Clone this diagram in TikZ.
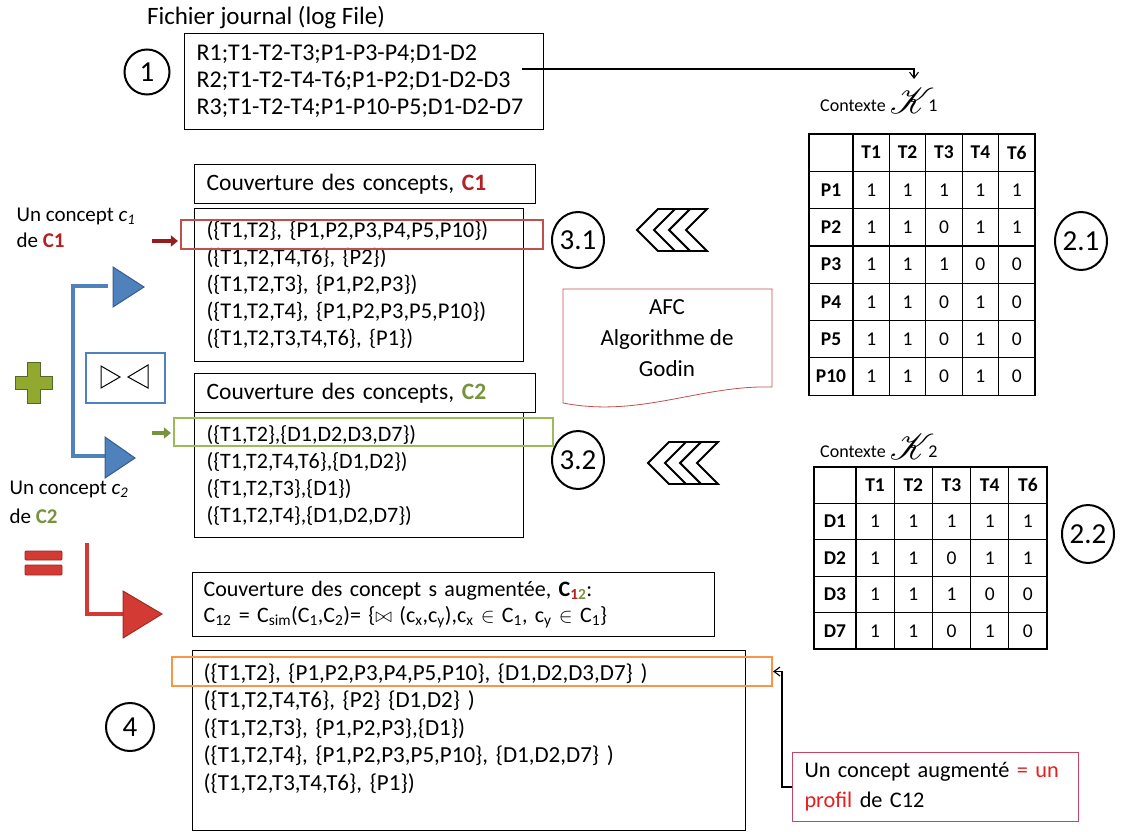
\documentclass[tikz,border=0pt]{standalone}
\usepackage{fontspec}
\setmainfont{Carlito}
\usepackage{mathrsfs}
\usetikzlibrary{shapes.geometric,arrows.meta,positioning}

\definecolor{conceptred}{RGB}{178,34,34}
\definecolor{conceptgreen}{RGB}{119,147,60}
\definecolor{selred}{RGB}{192,80,77}
\definecolor{selgreen}{RGB}{155,187,89}
\definecolor{selorange}{RGB}{247,150,70}
\definecolor{joinblue}{RGB}{79,129,189}
\definecolor{joinblueedge}{RGB}{56,93,138}
\definecolor{eqred}{RGB}{212,58,52}
\definecolor{notepink}{RGB}{200,70,100}
\definecolor{profilred}{RGB}{230,30,30}

\newcommand{\listfont}{\fontsize{22.5}{27}\selectfont}
\newcommand{\cellfont}{\fontsize{19.5}{19.5}\selectfont}
\newcommand{\bigK}{\raisebox{-2pt}{\scalebox{2.1}{$\mathscr{K}$}}\kern-6pt}

\tikzset{
  listbox/.style={draw, line width=1.2pt, anchor=north west, inner xsep=12pt,
    inner ysep=0pt, align=left, font=\listfont},
  numcirc/.style={draw, ellipse, line width=2pt, inner sep=0pt,
    font=\fontsize{29}{29}\selectfont},
  cell/.style={draw, line width=1.2pt, inner sep=0pt, font=\cellfont},
  headcell/.style={cell, font=\cellfont\bfseries},
  selbox/.style={draw, line width=2.2pt, inner sep=0pt},
  chevron/.style={draw, fill=white, line width=1.8pt, line join=miter},
  pointer/.style={-{Straight Barb[length=6pt,width=9pt]}, line width=1.1pt},
}

\begin{document}
\begin{tikzpicture}[x=1pt,y=-1pt]
  \useasboundingbox (0,0) rectangle (1121,832);

  % Log file and its number
  \node[font=\fontsize{25}{25}\selectfont] (logtitle) at (266,18) {Fichier journal (log File)};
  \node[listbox, text width=335pt, minimum height=96pt, font=\fontsize{24}{27}\selectfont] (log) at (184,33)
    {R1;T1-T2-T3;P1-P3-P4;D1-D2\\R2;T1-T2-T4-T6;P1-P2;D1-D2-D3\\R3;T1-T2-T4;P1-P10-P5;D1-D2-D7};
  \node[numcirc, circle, minimum size=45pt] (n1) at (147,72) {1};

  % Context K1
  \node[font=\fontsize{18}{18}\selectfont, anchor=west, inner sep=0pt] (ctx1) at (820,101) {Contexte \bigK1};
  \coordinate (logtap) at (522,69);
  \coordinate (ctx1top) at (914,79);
  \draw[pointer] (logtap) -| (ctx1top);

  \node[cell, minimum width=44pt, minimum height=37.3pt] (k1-0-0) at (831,152.6) {};
  \foreach \t [count=\c] in {T1,T2,T3,T4,T6}
    \node[headcell, minimum width=36.4pt, minimum height=37.3pt] (k1-0-\c) at ({853+36.4*(\c-0.5)},152.6) {\t};
  \foreach \p/\vals [count=\r] in {P1/{1,1,1,1,1},P2/{1,1,0,1,1},P3/{1,1,1,0,0},
      P4/{1,1,0,1,0},P5/{1,1,0,1,0},P10/{1,1,0,1,0}}{
    \node[headcell, minimum width=44pt, minimum height=37.3pt] (k1-\r-0) at (831,{134+37.3*(\r+0.5)}) {\p};
    \foreach \v [count=\c] in \vals
      \node[cell, minimum width=36.4pt, minimum height=37.3pt] (k1-\r-\c) at ({853+36.4*(\c-0.5)},{134+37.3*(\r+0.5)}) {\v};
  }
  \node[numcirc, minimum width=48pt, minimum height=58pt] (n21) at (1081,241) {2.1};

  % Context K2
  \node[font=\fontsize{18}{18}\selectfont, anchor=west, inner sep=0pt] (ctx2) at (820,447) {Contexte \bigK2};
  \node[cell, minimum width=42pt, minimum height=36.4pt] (k2-0-0) at (835,485.2) {};
  \foreach \t [count=\c] in {T1,T2,T3,T4,T6}
    \node[headcell, minimum width=38.2pt, minimum height=36.4pt] (k2-0-\c) at ({856+38.2*(\c-0.5)},485.2) {\t};
  \foreach \p/\vals [count=\r] in {D1/{1,1,1,1,1},D2/{1,1,0,1,1},D3/{1,1,1,0,0},D7/{1,1,0,1,0}}{
    \node[headcell, minimum width=42pt, minimum height=36.4pt] (k2-\r-0) at (835,{467+36.4*(\r+0.5)}) {\p};
    \foreach \v [count=\c] in \vals
      \node[cell, minimum width=38.2pt, minimum height=36.4pt] (k2-\r-\c) at ({856+38.2*(\c-0.5)},{467+36.4*(\r+0.5)}) {\v};
  }
  \node[numcirc, minimum width=52pt, minimum height=58pt] (n22) at (1088,534) {2.2};

  % Cover C1
  \node[listbox, text width=317pt, minimum height=39pt, font=\fontsize{23.5}{27}\selectfont] (c1head) at (194,164)
    {Couverture des concepts, \textcolor{conceptred}{\textbf{C1}}};
  \node[listbox, text width=305pt, minimum height=153pt] (c1list) at (194,208)
    {(\{T1,T2\}, \{P1,P2,P3,P4,P5,P10\})\\(\{T1,T2,T4,T6\}, \{P2\})\\(\{T1,T2,T3\}, \{P1,P2,P3\})\\
     (\{T1,T2,T4\}, \{P1,P2,P3,P5,P10\})\\(\{T1,T2,T3,T4,T6\}, \{P1\})};
  \node[selbox, draw=selred, minimum width=362pt, minimum height=29pt] (sel1) at (362,234.5) {};
  \node[numcirc, minimum width=50pt, minimum height=56pt] (n31) at (578,240) {3.1};

  % Cover C2
  \node[listbox, text width=317pt, minimum height=39pt, font=\fontsize{23.5}{27}\selectfont] (c2head) at (194,373)
    {Couverture des concepts, \textcolor{conceptgreen}{\textbf{C2}}};
  \node[listbox, text width=305pt, minimum height=125pt, font=\fontsize{22}{27}\selectfont] (c2list) at (194,412)
    {(\{T1,T2\},\{D1,D2,D3,D7\})\\(\{T1,T2,T4,T6\},\{D1,D2\})\\(\{T1,T2,T3\},\{D1\})\\(\{T1,T2,T4\},\{D1,D2,D7\})};
  \node[selbox, draw=selgreen, minimum width=379pt, minimum height=28pt] (sel2) at (363.5,432) {};
  \node[numcirc, minimum width=50pt, minimum height=58pt] (n32) at (578,460) {3.2};

  % Chevrons pointing to the covers
  \foreach \dx in {32,15,0}{
    \draw[chevron, shift={(637+\dx,230)}] (0,0) -- (21,-21) -- (38,-21) -- (17,0) -- (38,21) -- (21,21) -- cycle;
    \draw[chevron, shift={(648+\dx,463)}] (0,0) -- (21,-21) -- (38,-21) -- (17,0) -- (38,21) -- (21,21) -- cycle;
  }

  % AFC document
  \draw[selred, line width=0.8pt] (563,289) -- (772,289) -- (772,387)
    .. controls (700,385) and (640,418) .. (563,403) -- cycle;
  \node[align=center, font=\fontsize{23}{31}\selectfont] (afc) at (667,338) {AFC\\Algorithme de\\Godin};

  % Concept c1 and c2 labels
  \node[anchor=west, align=left, font=\fontsize{21}{26}\selectfont] (lblc1) at (13,228)
    {Un concept \textit{c\textsubscript{1}}\\de \textcolor{conceptred}{\textbf{C1}}};
  \coordinate (tip1) at (152,241);
  \draw[conceptred!85!black, line width=4pt, -{Triangle[length=7pt,width=11pt]}, shorten >=2pt] (tip1) -- (sel1.west |- tip1);
  \node[anchor=west, align=left, font=\fontsize{21}{29}\selectfont] (lblc2) at (6,502)
    {Un concept \textit{c\textsubscript{2}}\\de \textcolor{conceptgreen}{\textbf{C2}}};
  \coordinate (tip2) at (152,433);
  \draw[conceptgreen, line width=4pt, -{Triangle[length=7pt,width=11pt]}, shorten >=2pt] (tip2) -- (sel2.west |- tip2);

  % Join bracket, plus and equal signs
  \draw[joinblue, line width=4.5pt] (108,286) -- (73,286) -- (73,456) -- (108,456);
  \filldraw[fill=joinblue, draw=joinblueedge, line width=1pt] (113,267) -- (144,287) -- (113,307) -- cycle;
  \filldraw[fill=joinblue, draw=joinblueedge, line width=1pt] (105,437) -- (135,458) -- (105,478) -- cycle;
  \node[draw=joinblue, line width=2.5pt, minimum width=79pt, minimum height=50pt] (join) at (125.5,378) {};
  \draw[line width=1pt, line join=miter] (101,366) -- (120,377) -- (101,388) -- cycle;
  \draw[line width=1pt, line join=miter] (148,365) -- (128,377) -- (148,388) -- cycle;
  \filldraw[fill=conceptgreen!80!yellow, draw=conceptgreen!70!black, line width=0.8pt]
    (27,362) -- (40,362) -- (40,376) -- (52,376) -- (52,389) -- (40,389) -- (40,403)
    -- (27,403) -- (27,389) -- (15,389) -- (15,376) -- (27,376) -- cycle;
  \filldraw[fill=eqred, draw=eqred!70!black, line width=0.8pt, rounded corners=1pt] (25,551) rectangle (62,560);
  \filldraw[fill=eqred, draw=eqred!70!black, line width=0.8pt, rounded corners=1pt] (25,565) rectangle (62,575);
  \draw[eqred, line width=4pt] (87,543) -- (87,614) -- (126,614);
  \filldraw[fill=eqred, draw=eqred!75!black, line width=1pt] (123,591) -- (162,614) -- (123,638) -- cycle;

  % Augmented cover C12
  \node[listbox, inner xsep=11pt, text width=500pt, minimum height=64pt, font=\fontsize{22}{26}\selectfont] (c12head) at (192,572)
    {Couverture des concept s augmentée, \textbf{C}\textsubscript{\textbf{\textcolor{conceptred}{1}\textcolor{conceptgreen}{2}}}:\\
     C\textsubscript{12} = C\textsubscript{sim}(C\textsubscript{1},C\textsubscript{2})= \{$\bowtie$\ (c\textsubscript{x},c\textsubscript{y}),c\textsubscript{x} $\in$ C\textsubscript{1}, c\textsubscript{y} $\in$ C\textsubscript{1}\}};
  \node[listbox, inner xsep=11pt, text width=531pt, minimum height=180pt, font=\fontsize{23}{27.5}\selectfont] (c12list) at (192,650)
    {(\{T1,T2\}, \{P1,P2,P3,P4,P5,P10\}, \{D1,D2,D3,D7\} )\\(\{T1,T2,T4,T6\}, \{P2\} \{D1,D2\} )\\
     (\{T1,T2,T3\}, \{P1,P2,P3\},\{D1\})\\(\{T1,T2,T4\}, \{P1,P2,P3,P5,P10\}, \{D1,D2,D7\} )\\
     (\{T1,T2,T3,T4,T6\}, \{P1\})\\\mbox{}};
  \node[selbox, draw=selorange, minimum width=600pt, minimum height=29pt] (sel12) at (472,671.5) {};
  \node[numcirc, circle, minimum size=48pt] (n4) at (130,727) {4};

  % Note on augmented concept
  \node[draw=notepink, line width=1pt, anchor=north west, minimum width=286pt, minimum height=69pt,
    inner xsep=12pt, text width=262pt, align=left, font=\fontsize{22.3}{30}\selectfont] (note) at (792,752)
    {Un concept augmenté \textcolor{profilred}{= un}\\\textcolor{profilred}{profil} de C12};
  \draw[pointer] (note.west) -- ++(-10,0) |- (sel12.east);

\end{tikzpicture}
\end{document}
